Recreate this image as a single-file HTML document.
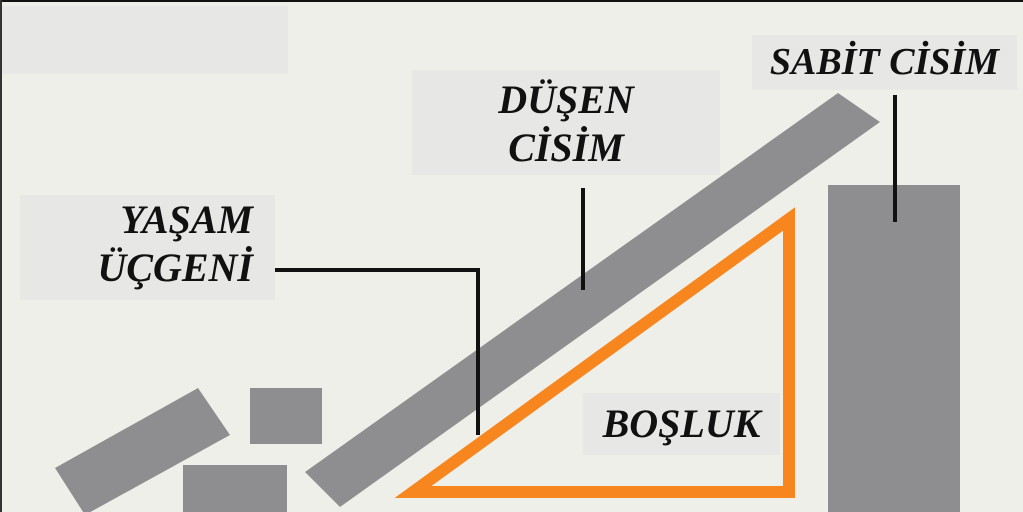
<!DOCTYPE html>
<html><head><meta charset="utf-8"><style>
html,body{margin:0;padding:0}
body{width:1023px;height:512px;overflow:hidden;background:#efefea;position:relative;font-family:"Liberation Serif",serif}
.b{position:absolute;background:#e7e7e6}
.t{position:absolute;font-weight:bold;font-style:italic;font-size:40px;color:#111;line-height:48px;text-align:center;white-space:nowrap}
</style></head><body>
<div style="position:absolute;left:0;top:0;width:1023px;height:2px;background:#111"></div>
<div style="position:absolute;left:0;top:0;width:2px;height:512px;background:#333"></div>
<div class="b" style="left:2px;top:6px;width:286px;height:68px"></div>
<div class="b" style="left:412px;top:70px;width:308px;height:105px"></div>
<div class="b" style="left:752px;top:35px;width:265px;height:55px"></div>
<div class="b" style="left:20px;top:195px;width:255px;height:105px"></div>
<div class="b" style="left:583px;top:393px;width:197px;height:62px"></div>
<svg width="1023" height="512" style="position:absolute;left:0;top:0">
<polygon points="305,472 838,93 880,122 340,507" fill="#8e8e90"/>
<rect x="828" y="185" width="132" height="330" fill="#8e8e90"/>
<rect x="250" y="388" width="72" height="56" fill="#8e8e90"/>
<rect x="183" y="465" width="104" height="50" fill="#8e8e90"/>
<polygon points="55,468 198,388 230,435 85,515" fill="#8e8e90"/>
<polygon points="413,492 789,219 789,492" fill="none" stroke="#f7861e" stroke-width="12" stroke-linejoin="miter"/>
<polyline points="275,270 478,270 478,435" fill="none" stroke="#111" stroke-width="4"/>
<line x1="583" y1="188" x2="583" y2="290" stroke="#111" stroke-width="4"/>
<line x1="895" y1="95" x2="895" y2="222" stroke="#111" stroke-width="4"/>
</svg>
<div class="t" style="left:412px;top:76px;width:308px">DÜŞEN<br>CİSİM</div>
<div class="t" style="left:752px;top:38px;width:265px;font-size:38px">SABİT CİSİM</div>
<div class="t" style="left:20px;top:196px;width:255px;text-align:right;padding-right:22px;box-sizing:border-box">YAŞAM<br>ÜÇGENİ</div>
<div class="t" style="left:583px;top:400px;width:197px">BOŞLUK</div>
</body></html>
